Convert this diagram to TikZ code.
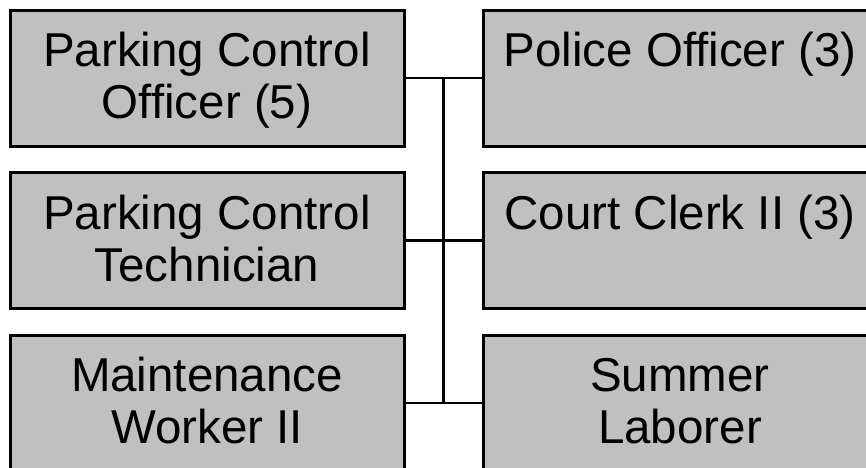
\documentclass[tikz,border=0pt]{standalone}
\usepackage{fontspec}
\setmainfont{Liberation Sans}
\usetikzlibrary{calc}
\definecolor{boxgray}{RGB}{192,192,192}
\tikzset{
  box/.style={draw=black, line width=3pt, fill=boxgray, minimum width=394pt, minimum height=136pt, inner sep=0pt, outer sep=0pt},
  lbl/.style={anchor=north, inner sep=0pt, align=center, font=\fontsize{47.5}{52}\selectfont},
  conn/.style={draw=black, line width=2.5pt}
}
\begin{document}
\begin{tikzpicture}[x=1pt, y=1pt]
\useasboundingbox (0,0) rectangle (866,-467);
% boxes
\node[box] (pco) at (207,-78) {};
\node[box] (pct) at (207,-240.5) {};
\node[box] (mw)  at (207,-403) {};
\node[box] (po)  at (680,-78) {};
\node[box] (cc)  at (680,-240.5) {};
\node[box] (sl)  at (680,-403) {};
% labels
\node[lbl] (tpco) at ($(pco.north)+(0,-20.3)$) {\strut Parking Control\\Officer (5)};
\node[lbl] (tpct) at ($(pct.north)+(0,-20.3)$) {\strut Parking Control\\Technician};
\node[lbl] (tmw)  at ($(mw.north)+(0,-20.3)$)  {\strut Maintenance\\Worker II};
\node[lbl] (tpo)  at ($(po.north)+(0,-20.3)$)  {\strut Police Officer (3)};
\node[lbl] (tcc)  at ($(cc.north)+(0,-20.3)$)  {\strut Court Clerk II (3)};
\node[lbl] (tsl)  at ($(sl.north)+(0,-20.3)$)  {\strut Summer\\Laborer};
% connectors
\coordinate (vtop) at ($(pco.east)!0.5!(po.west)$);
\coordinate (vbot) at ($(mw.east)!0.5!(sl.west)$);
\draw[conn] (pco.east) -- (po.west);
\draw[conn] (pct.east) -- (cc.west);
\draw[conn] (mw.east) -- (sl.west);
\draw[conn] (vtop) -- (vbot);
\end{tikzpicture}
\end{document}
